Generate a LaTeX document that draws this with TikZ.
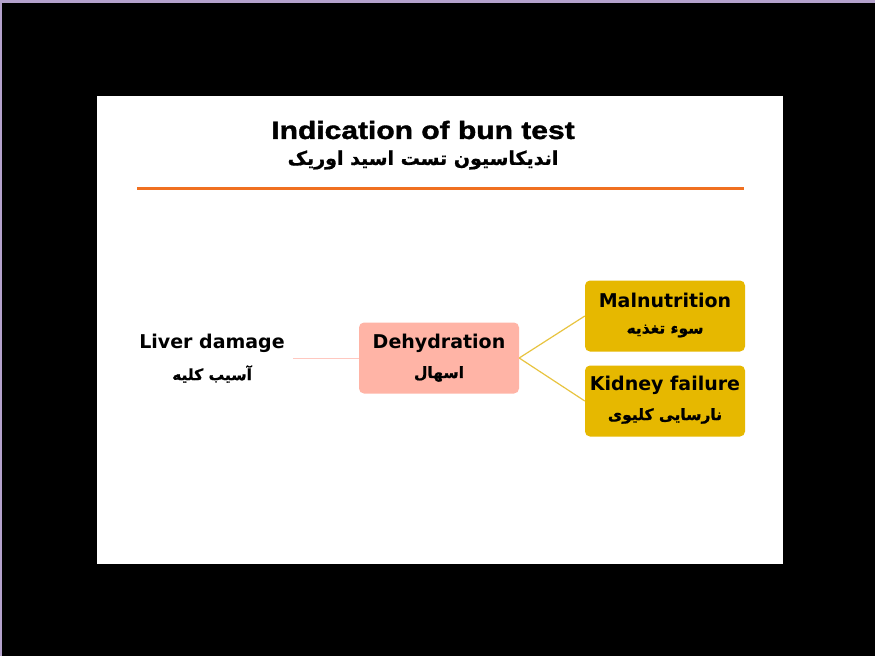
\documentclass[tikz,border=0pt]{standalone}
\usepackage{fontspec}
\setmainfont{DejaVu Sans}
\newfontfamily\titlefont[FakeStretch=1.2,FakeBold=1.6]{Liberation Sans}
\newfontfamily\arabicfont[Script=Arabic,FakeBold=1]{DejaVu Sans}
\TeXXeTstate=1
\definecolor{purpleedge}{HTML}{B4A2CC}
\definecolor{orangeline}{HTML}{F07020}
\definecolor{pinkfill}{HTML}{FFB4A6}
\definecolor{goldfill}{HTML}{E6B800}
\definecolor{goldline}{HTML}{E8C440}
\definecolor{pinkline}{HTML}{FFC8C0}
\tikzset{
  x=1pt, y=-1pt,
  box/.style={rounded corners=5pt, minimum width=160pt, minimum height=71pt, inner sep=0pt, align=center},
  pinkbox/.style={box, fill=pinkfill},
  goldbox/.style={box, fill=goldfill},
  entxt/.style={font=\bfseries\fontsize{19}{21}\selectfont, inner sep=0pt},
  fatxt/.style={font=\arabicfont\bfseries\fontsize{15.5}{18}\selectfont, inner sep=0pt},
}
\begin{document}
\begin{tikzpicture}
\useasboundingbox (0,0) rectangle (875,656);
\fill[purpleedge] (0,0) rectangle (875,656);
\fill[black] (2,3) rectangle (875,656);
\fill[white] (97,96) rectangle (783,564);
% title
\node[font=\titlefont\bfseries\fontsize{25}{27}\selectfont, inner sep=0pt] (title) at (423,130) {Indication of bun test};
\node[font=\arabicfont\bfseries\fontsize{19}{22}\selectfont, inner sep=0pt] (subtitle) at (423,160) {\beginR اندیکاسیون تست اسید اوریک\endR};
\coordinate (ruleL) at (137,188);
\coordinate (ruleR) at (744,188);
\draw[orangeline, line width=3pt] (ruleL) -- (ruleR);
% nodes
\node[box, minimum width=162pt] (liver) at (212,358) {};
\node[entxt] (liverEn) at (212,343) {Liver damage};
\node[fatxt] (liverFa) at (212,374) {\beginR آسیب کلیه\endR};
\node[pinkbox] (dehy) at (439,358) {};
\node[entxt] (dehyEn) at (439,343) {Dehydration};
\node[fatxt] (dehyFa) at (439,374) {\beginR اسهال\endR};
\node[goldbox] (maln) at (665,316) {};
\node[entxt] (malnEn) at (665,300) {Malnutrition};
\node[fatxt] (malnFa) at (665,331) {\beginR سوء تغذیه\endR};
\node[goldbox] (kid) at (665,401) {};
\node[entxt] (kidEn) at (665,385) {Kidney failure};
\node[fatxt] (kidFa) at (665,416) {\beginR نارسایی کلیوی\endR};
% connectors
\draw[pinkline, line width=1pt] (liver.east) -- (dehy.west);
\draw[goldline, line width=1.2pt] (dehy.east) -- (maln.west);
\draw[goldline, line width=1.2pt] (dehy.east) -- (kid.west);
\end{tikzpicture}
\end{document}
